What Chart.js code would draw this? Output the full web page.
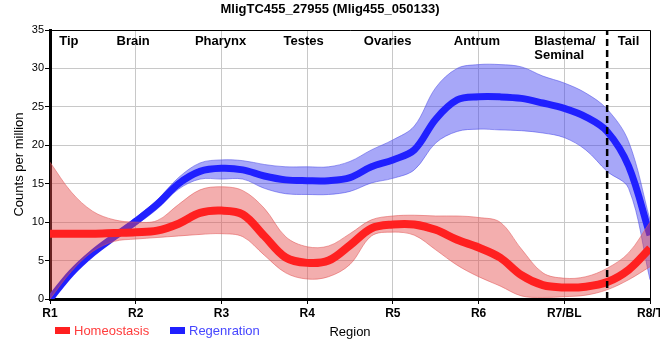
<!DOCTYPE html>
<html>
<head>
<meta charset="utf-8">
<script src="https://cdn.jsdelivr.net/npm/chart.js@4.4.1/dist/chart.umd.min.js"></script>
<style>
  html, body { margin: 0; padding: 0; background: #fff; }
  #wrap { width: 660px; height: 360px; }
</style>
</head>
<body>
<div id="wrap"><canvas id="chart" width="660" height="360"></canvas></div>
<script>
// Region positions along the body (R1 .. R8) at quarter steps
const xValues = [1, 1.25, 1.5, 1.75, 2, 2.25, 2.5, 2.75, 3, 3.25, 3.5, 3.75, 4, 4.25, 4.5,
                 4.75, 5, 5.25, 5.5, 5.75, 6, 6.25, 6.5, 6.75, 7, 7.25, 7.5, 7.75, 8];

// Homeostasis (red)
const homeoMean  = [8.5, 8.5, 8.5, 8.6, 8.7, 8.9, 9.8, 11.2, 11.5, 11.0, 8.2, 5.4, 4.7, 5.0, 7.0,
                    9.2, 9.7, 9.7, 9.0, 7.7, 6.7, 5.4, 3.1, 1.8, 1.5, 1.6, 2.2, 3.8, 6.6];
const homeoUpper = [17.8, 13.9, 11.4, 10.3, 10.0, 10.2, 12.3, 14.2, 14.6, 14.1, 11.8, 8.1, 6.8, 6.9, 8.5,
                    10.3, 10.8, 10.9, 10.8, 10.8, 10.6, 10.0, 6.5, 3.4, 2.7, 2.9, 4.0, 6.0, 10.0];
const homeoLower = [0, 3.6, 6.2, 7.5, 7.8, 8.0, 8.2, 8.4, 8.5, 8.1, 5.7, 3.4, 2.6, 2.9, 4.5,
                    8.2, 8.7, 8.3, 6.4, 4.4, 2.9, 1.7, 0.4, 0.2, 0.3, 0.5, 1.2, 2.5, 4.2];

// Regeneration (blue)
const regenMean  = [0, 3.4, 6.0, 8.1, 10.1, 12.3, 15.0, 16.6, 17.0, 16.8, 16.0, 15.5, 15.4, 15.4, 15.8,
                    17.2, 18.1, 19.4, 23.4, 25.9, 26.3, 26.3, 26.1, 25.5, 24.8, 23.7, 21.8, 17.3, 8.3];
const regenUpper = [0, 3.7, 6.3, 8.5, 10.6, 12.9, 15.8, 17.7, 18.1, 18.0, 17.5, 17.2, 17.2, 17.2, 17.9,
                    19.4, 20.7, 22.5, 27.5, 30.0, 30.5, 30.5, 30.2, 29.0, 28.1, 26.8, 24.7, 20.5, 10.3];
const regenLower = [0, 3.1, 5.7, 7.7, 9.6, 11.7, 14.3, 15.6, 15.6, 15.6, 14.4, 13.7, 13.6, 13.6, 14.0,
                    15.1, 15.7, 16.8, 20.3, 21.8, 22.1, 22.0, 21.9, 21.6, 21.0, 19.4, 16.6, 14.4, 2.5];

const xTickLabels = ['R1', 'R2', 'R3', 'R4', 'R5', 'R6', 'R7/BL', 'R8/T'];
const regionNames = [['Tip'], ['Brain'], ['Pharynx'], ['Testes'], ['Ovaries'], ['Antrum'], ['Blastema/', 'Seminal'], ['Tail']];
const regionX = [1.22, 1.97, 2.99, 3.96, 4.94, 5.98, 6.65, 7.75];
const tailBoundary = 7.5;

const chartTitle = 'MligTC455_27955 (Mlig455_050133)';
const seriesNames = ['Homeostasis', 'Regenration'];

const FONT = "'Liberation Sans', Arial, sans-serif";
const RED = 'rgb(255, 32, 32)';
const BLUE = 'rgb(32, 32, 255)';

const toPoints = (ys) => ys.map((y, i) => ({ x: xValues[i], y: y }));

// region names along the top, title, legend at bottom left, top/right frame
const decorations = {
    id: 'decorations',
    afterDraw(chart) {
        const { ctx, chartArea, scales } = chart;
        const xs = scales.x;
        ctx.save();

        // thin frame on top and right
        ctx.strokeStyle = '#000';
        ctx.lineWidth = 1;
        ctx.beginPath();
        ctx.moveTo(chartArea.left, chartArea.top + 0.5);
        ctx.lineTo(chartArea.right + 0.5, chartArea.top + 0.5);
        ctx.lineTo(chartArea.right + 0.5, chartArea.bottom);
        ctx.stroke();

        // title
        ctx.fillStyle = '#000';
        ctx.font = 'bold 13px ' + FONT;
        ctx.textAlign = 'center';
        ctx.textBaseline = 'alphabetic';
        ctx.fillText(chartTitle, 330, 13);

        // region names
        ctx.font = 'bold 13px ' + FONT;
        regionNames.forEach((lines, i) => {
            const px = xs.getPixelForValue(regionX[i]);
            ctx.textAlign = lines.length > 1 ? 'left' : 'center';
            lines.forEach((t, j) => ctx.fillText(t, px, 45 + j * 14));
        });

        // legend
        const items = [
            { text: seriesNames[0], color: RED, textColor: 'rgb(255, 60, 60)', x: 55 },
            { text: seriesNames[1], color: BLUE, textColor: 'rgb(70, 70, 255)', x: 170 }
        ];
        ctx.font = '13px ' + FONT;
        ctx.textAlign = 'left';
        ctx.textBaseline = 'middle';
        items.forEach(it => {
            ctx.fillStyle = it.color;
            ctx.fillRect(it.x, 327, 15, 7);
            ctx.fillStyle = it.textColor;
            ctx.fillText(it.text, it.x + 19, 331);
        });
        ctx.restore();
    }
};

const lineBase = { pointRadius: 0, pointHoverRadius: 0, tension: 0.35 };

new Chart(document.getElementById('chart').getContext('2d'), {
    type: 'line',
    data: {
        datasets: [
            // 0: tail boundary
            { data: [{ x: tailBoundary, y: 0 }, { x: tailBoundary, y: 35 }], borderColor: '#000',
              borderWidth: 2.5, borderDash: [7, 4], pointRadius: 0, fill: false, order: 0 },
            // 1-3: homeostasis
            { ...lineBase, data: toPoints(homeoMean), borderColor: RED, borderWidth: 8, fill: false, order: 1 },
            { ...lineBase, data: toPoints(homeoLower), borderColor: 'rgba(225, 90, 90, 0.55)', borderWidth: 1, fill: false, order: 3 },
            { ...lineBase, data: toPoints(homeoUpper), borderColor: 'rgba(225, 90, 90, 0.55)', borderWidth: 1,
              backgroundColor: 'rgba(228, 75, 75, 0.45)', fill: '-1', order: 2 },
            // 4-6: regeneration
            { ...lineBase, data: toPoints(regenMean), borderColor: BLUE, borderWidth: 7, fill: false, order: 4 },
            { ...lineBase, data: toPoints(regenLower), borderColor: 'rgba(80, 80, 230, 0.55)', borderWidth: 1, fill: false, order: 6 },
            { ...lineBase, data: toPoints(regenUpper), borderColor: 'rgba(80, 80, 230, 0.55)', borderWidth: 1,
              backgroundColor: 'rgba(60, 60, 240, 0.45)', fill: '-1', order: 5 }
        ]
    },
    options: {
        responsive: false,
        animation: false,
        devicePixelRatio: 1,
        layout: { padding: { top: 30, right: 10, left: 0, bottom: 0 } },
        plugins: {
            legend: { display: false },
            tooltip: { enabled: false },
            title: { display: false }
        },
        scales: {
            x: {
                type: 'linear',
                min: 1,
                max: 8,
                afterFit: (scale) => {
                    scale.height = 61;
                    scale.paddingLeft = 0;
                    scale.paddingRight = 0;
                },
                ticks: {
                    stepSize: 1,
                    color: '#000',
                    padding: 2,
                    maxRotation: 0,
                    autoSkip: false,
                    font: { family: FONT, size: 12, weight: 'bold' },
                    callback: (v) => xTickLabels[v - 1]
                },
                grid: { color: '#c8c8c8', tickColor: '#000', tickLength: 5 },
                border: { color: '#000', width: 3 },
                title: {
                    display: true,
                    text: 'Region',
                    color: '#000',
                    font: { family: FONT, size: 13 },
                    padding: { top: 0, bottom: 20 }
                }
            },
            y: {
                min: 0,
                max: 35,
                afterFit: (scale) => { scale.width = 50; },
                ticks: {
                    stepSize: 5,
                    color: '#000',
                    padding: 1,
                    font: { family: FONT, size: 11 }
                },
                grid: { color: '#c8c8c8', tickColor: '#000', tickLength: 5 },
                border: { color: '#000', width: 3 },
                title: {
                    display: true,
                    text: 'Counts per million',
                    color: '#000',
                    font: { family: FONT, size: 13 },
                    padding: { top: 12, bottom: 0 }
                }
            }
        }
    },
    plugins: [decorations]
});
</script>
</body>
</html>
